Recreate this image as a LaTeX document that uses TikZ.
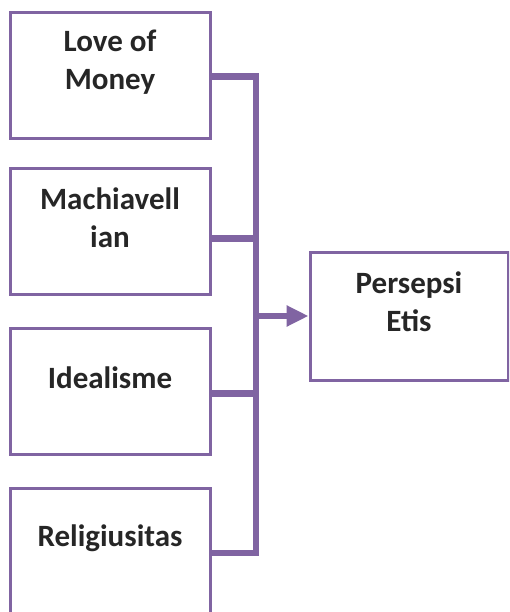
\documentclass[tikz,border=0pt]{standalone}
\usepackage{fontspec}
\setmainfont{Carlito}
\usepackage{tikz}
\usetikzlibrary{arrows.meta}
\definecolor{boxpurple}{RGB}{128,100,162}
\begin{document}
\begin{tikzpicture}[x=1pt,y=-1pt,
		box_style/.style={rectangle,draw=boxpurple,line width=3pt,fill=white,minimum width=200pt,minimum height=126pt,inner sep=0pt},
		text_style/.style={align=center,text=black!85,font=\fontsize{31}{38}\selectfont\bfseries},
		link_style/.style={draw=boxpurple,line width=6.5pt,line join=miter}]

		\clip (0,0) rectangle (509,612);

		\node[box_style] (b1) at (110,75.5) {};
		\node[box_style] (b2) at (110,231.5) {};
		\node[box_style] (b3) at (110,391.5) {};
		\node[box_style] (b4) at (110,551) {};
		\node[box_style,minimum width=198pt,minimum height=128pt] (pe) at (409,316) {};

		\node[text_style] (t1) at (110,62) {Love of\\Money};
		\node[text_style] (t2) at (110,218) {Machiavell\\ian};
		\node[text_style] (t3) at (110,378) {Idealisme};
		\node[text_style] (t4) at (110,538) {Religiusitas};
		\node[text_style] (tp) at (409,302) {Persepsi\\Etis};

		\coordinate (bus) at (256,0);
		\coordinate (e1) at ([yshift=-1pt]b1.east);
		\coordinate (e2) at ([yshift=-7pt]b2.east);
		\coordinate (e3) at ([yshift=-2pt]b3.east);
		\coordinate (e4) at ([yshift=-2pt]b4.east);

		\draw[link_style] (e1) -| (bus |- e4) -- (e4);
		\draw[link_style] (e2) -- (bus |- e2);
		\draw[link_style] (e3) -- (bus |- e3);
		\draw[link_style,-{Triangle[length=22pt,width=20pt]}] (bus |- pe.west) -- (pe.west);

\end{tikzpicture}
\end{document}
